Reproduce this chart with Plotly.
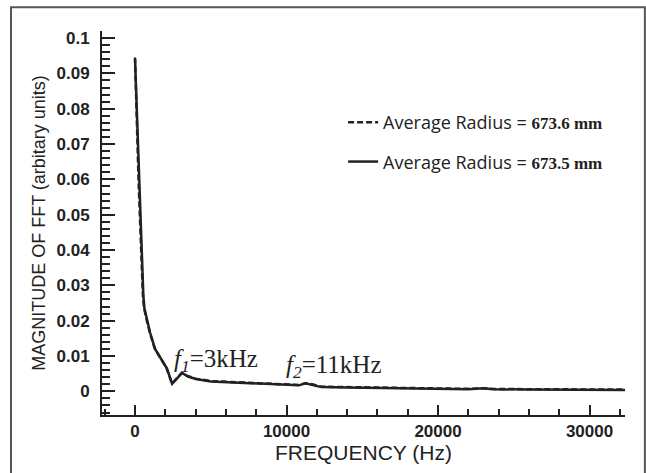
import plotly.graph_objects as go

# Solid series: Average Radius = 673.5 mm
freq_a = [0, 260, 550, 620, 800, 1000, 1320, 1760, 2100, 2450, 2800, 3100, 3500, 4000,
          5000, 6500, 8000, 10000, 10800, 11250, 11700, 12300, 14000, 16000, 18000,
          20000, 22000, 23000, 23600, 26000, 28000, 30000, 32340]
mag_a = [0.094, 0.060, 0.027, 0.0235, 0.020, 0.0165, 0.012, 0.009, 0.0065, 0.0021, 0.0038,
         0.0052, 0.0042, 0.0035, 0.0028, 0.0025, 0.0021, 0.0018, 0.0017, 0.0023, 0.0019,
         0.0012, 0.0011, 0.0010, 0.0008, 0.0007, 0.0006, 0.0009, 0.0006, 0.0005, 0.0005,
         0.0004, 0.0004]

# Dashed series: Average Radius = 673.6 mm
freq_b = [0, 230, 520, 600, 780, 980, 1300, 1740, 2080, 2440, 2780, 3080, 3480, 4000,
          5000, 6500, 8000, 10000, 10800, 11250, 11700, 12300, 14000, 16000, 18000,
          20000, 22000, 23000, 23600, 26000, 28000, 30000, 32340]
mag_b = [0.0945, 0.060, 0.027, 0.0235, 0.020, 0.0166, 0.0121, 0.0091, 0.0066, 0.0022, 0.0039,
         0.0052, 0.0043, 0.0036, 0.0029, 0.0026, 0.0022, 0.0019, 0.0018, 0.0023, 0.0020,
         0.0013, 0.0012, 0.0011, 0.0009, 0.0008, 0.0007, 0.0009, 0.0007, 0.0006, 0.0006,
         0.0005, 0.0005]

label_b = "Average Radius = <span style='font-family:Liberation Serif;font-size:17px'><b>673.6 mm</b></span>"
label_a = "Average Radius = <span style='font-family:Liberation Serif;font-size:17px'><b>673.5 mm</b></span>"

ann_f1 = "<i>f</i><sub><i>1</i></sub>=3kHz"
ann_f2 = "<i>f</i><sub><i>2</i></sub>=11kHz"

x_ticks = [0, 10000, 20000, 30000]
y_ticks = [0, 0.01, 0.02, 0.03, 0.04, 0.05, 0.06, 0.07, 0.08, 0.09, 0.1]
y_tick_text = ["0", "0.01", "0.02", "0.03", "0.04", "0.05", "0.06", "0.07", "0.08", "0.09", "0.1"]

ink = "#222222"

fig = go.Figure()
fig.add_trace(go.Scatter(x=freq_a, y=mag_a, mode="lines", name=label_a, legendgroup="a",
                         legendrank=2, line=dict(color=ink, width=2.5)))
fig.add_trace(go.Scatter(x=freq_b, y=mag_b, mode="lines", name=label_b, legendgroup="b",
                         legendrank=1, line=dict(color=ink, width=2.5, dash="6px,3px")))

fig.update_layout(
    width=646, height=473,
    margin=dict(l=102, r=21, t=31, b=54),
    paper_bgcolor="white", plot_bgcolor="white",
    font=dict(family="Liberation Sans", color=ink),
    showlegend=True,
    legend=dict(x=0.461, y=0.81, xanchor="left", yanchor="top",
                traceorder="grouped", tracegroupgap=13,
                font=dict(family="Open Sans", size=18, color=ink),
                bgcolor="rgba(0,0,0,0)"),
    xaxis=dict(range=[-2180, 32340], showgrid=False, zeroline=False,
               showline=True, linecolor=ink, linewidth=2,
               ticks="inside", ticklen=10, tickwidth=2, tickcolor=ink,
               tickvals=x_ticks, ticktext=[str(v) for v in x_ticks],
               minor=dict(dtick=2000, tick0=0, ticks="inside", ticklen=6, tickwidth=1.5, tickcolor=ink),
               tickfont=dict(family="Liberation Sans", size=17, weight="bold", color=ink),
               title=dict(text="FREQUENCY (Hz)", standoff=5,
                          font=dict(family="Liberation Sans", size=21, color=ink))),
    yaxis=dict(range=[-0.0067, 0.102], showgrid=False, zeroline=False,
               showline=True, linecolor=ink, linewidth=2,
               ticks="inside", ticklen=13, tickwidth=2, tickcolor=ink,
               tickvals=y_ticks, ticktext=y_tick_text,
               minor=dict(dtick=0.002, tick0=0, ticks="inside", ticklen=8, tickwidth=1.5, tickcolor=ink),
               tickfont=dict(family="Liberation Sans", size=17, weight="bold", color=ink),
               ticklabelstandoff=7,
               title=dict(text="MAGNITUDE OF FFT (arbitary units)", standoff=6,
                          font=dict(family="Liberation Sans", size=18, color=ink))),
)

fig.add_annotation(x=2450, y=0.0087, xref="x", yref="y", text=ann_f1, showarrow=False,
                   xanchor="left", yanchor="middle",
                   font=dict(family="Liberation Serif", size=25, color=ink))
fig.add_annotation(x=9850, y=0.0069, xref="x", yref="y", text=ann_f2, showarrow=False,
                   xanchor="left", yanchor="middle",
                   font=dict(family="Liberation Serif", size=25, color=ink))

# outer frame
fig.add_shape(type="rect", xref="paper", yref="paper",
              x0=-0.174, x1=1.038, y0=-0.16, y1=1.062,
              line=dict(color="#555555", width=2), fillcolor="rgba(0,0,0,0)", layer="below")

fig.write_html("out.html")
